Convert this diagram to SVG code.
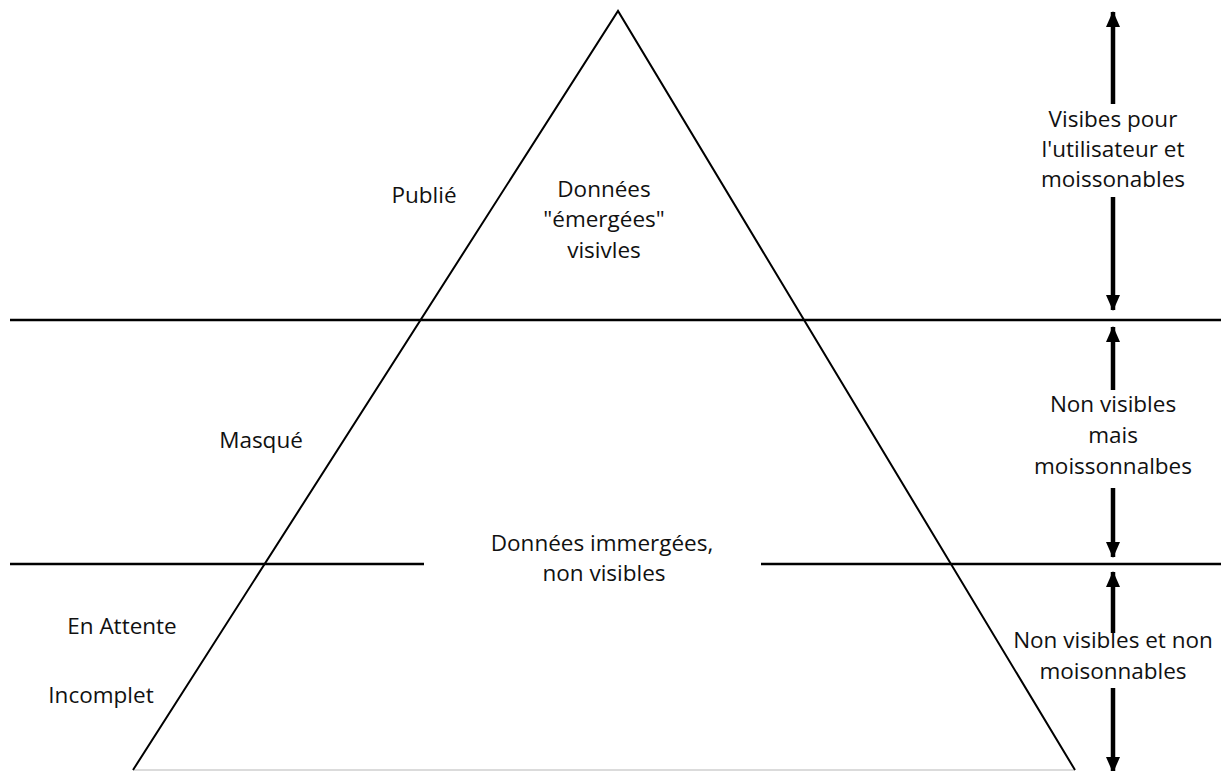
<svg xmlns="http://www.w3.org/2000/svg" width="1221" height="771" viewBox="0 0 1221 771">
  <style>
    .t { font-family: "Open Sans", "Noto Sans", "DejaVu Sans", sans-serif; font-size: 22.5px; fill: #111; text-anchor: middle; }
    .edge { stroke: #000; stroke-width: 2; fill: none; }
    .hl { stroke: #000; stroke-width: 2.5; fill: none; }
    .arr { stroke: #000; stroke-width: 4.5; fill: none; }
  </style>
  <defs>
    <marker id="ah" markerUnits="userSpaceOnUse" markerWidth="16" markerHeight="16" viewBox="0 0 16 16" refX="15" refY="7.5" orient="auto">
      <path d="M0,0.5 L16,7.5 L0,14.5 Z" fill="#000"/>
    </marker>
  </defs>
  <rect width="1221" height="771" fill="#fff"/>

  <g id="pyramid">
    <line x1="133" y1="770" x2="1075" y2="770" stroke="#cfcfcf" stroke-width="1.5"/>
    <polyline class="edge" points="133,770 618,11 1075,770"/>
  </g>

  <g id="levels">
    <line class="hl" x1="10" y1="320" x2="1221" y2="320"/>
    <line class="hl" x1="10" y1="564" x2="424" y2="564"/>
    <line class="hl" x1="761" y1="564" x2="1221" y2="564"/>
  </g>

  <g id="label-publie"><text class="t" x="424" y="203">Publié</text></g>
  <g id="label-masque"><text class="t" x="261" y="448">Masqué</text></g>
  <g id="label-attente"><text class="t" x="122" y="634">En Attente</text></g>
  <g id="label-incomplet"><text class="t" x="101" y="703">Incomplet</text></g>

  <g id="zone-emergees">
    <text class="t" x="604" y="197">Données</text>
    <text class="t" x="604" y="227">"émergées"</text>
    <text class="t" x="604" y="258">visivles</text>
  </g>
  <g id="zone-immergees">
    <text class="t" x="602" y="551">Données immergées,</text>
    <text class="t" x="604" y="581">non visibles</text>
  </g>

  <g id="side-visibles">
    <text class="t" x="1113" y="127">Visibes pour</text>
    <text class="t" x="1113" y="157">l'utilisateur et</text>
    <text class="t" x="1113" y="187">moissonables</text>
  </g>
  <g id="side-masques">
    <text class="t" x="1113" y="412">Non visibles</text>
    <text class="t" x="1113" y="443">mais</text>
    <text class="t" x="1113" y="474">moissonnalbes</text>
  </g>
  <g id="side-attente">
    <text class="t" x="1113" y="648">Non visibles et non</text>
    <text class="t" x="1113" y="679">moisonnables</text>
  </g>

  <g id="connectors">
    <line class="arr" x1="1113" y1="104" x2="1113" y2="12" marker-end="url(#ah)"/>
    <line class="arr" x1="1113" y1="197" x2="1113" y2="310" marker-end="url(#ah)"/>
    <line class="arr" x1="1113" y1="390" x2="1113" y2="327" marker-end="url(#ah)"/>
    <line class="arr" x1="1113" y1="488" x2="1113" y2="557" marker-end="url(#ah)"/>
    <line class="arr" x1="1113" y1="633" x2="1113" y2="572" marker-end="url(#ah)"/>
    <line class="arr" x1="1113" y1="688" x2="1113" y2="772" marker-end="url(#ah)"/>
  </g>
</svg>
